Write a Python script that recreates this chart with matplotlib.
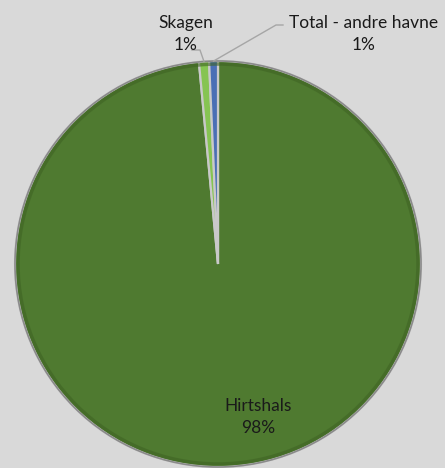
import numpy as np
import matplotlib
matplotlib.use('Agg')
import matplotlib.pyplot as plt

havne = ['Hirtshals', 'Skagen', 'Total - andre havne']
andel = [98.5, 0.8, 0.7]
etiketter = ['98%', '1%', '1%']
farver = ['#4f7a30', '#86c452', '#4a6fb5']

plt.rcParams['font.family'] = ['Lato', 'DejaVu Sans']

fig = plt.figure(figsize=(4.45, 4.68), dpi=100)
fig.patch.set_facecolor('#d9d9d9')
ax = fig.add_axes([0, 0, 1, 1])
ax.set_facecolor('#d9d9d9')

wedges, _ = ax.pie(andel, colors=farver, startangle=90, counterclock=False,
                   wedgeprops=dict(edgecolor='#c9c9c9', linewidth=1.6))
# rim
ax.add_patch(plt.Circle((0, 0), 1.0, fill=False, edgecolor='#8a8a8a', linewidth=1.2))
ax.add_patch(plt.Circle((0, 0), 0.985, fill=False, edgecolor='#3f6424', linewidth=2.5, alpha=0.6))

r = 203.0
ax.set_xlim(-218 / r, (445 - 218) / r)
ax.set_ylim(-(468 - 264) / r, 264 / r)
ax.axis('off')

def px(x, y):
    return ((x - 218) / r, (264 - y) / r)

fs = 12.5
ax.text(*px(258, 417), f'{havne[0]}\n{etiketter[0]}', ha='center', va='center',
        fontsize=fs, color='#1a1a1a', linespacing=1.5)
ax.text(*px(186, 34), f'{havne[1]}\n{etiketter[1]}', ha='center', va='center',
        fontsize=fs, color='#1a1a1a', linespacing=1.5)
ax.text(*px(364, 34), f'{havne[2]}\n{etiketter[2]}', ha='center', va='center',
        fontsize=fs, color='#1a1a1a', linespacing=1.5)

# leader lines from wedge tips
for w, pts in [(wedges[1], [(192, 50), (200, 50)]), (wedges[2], [(283, 25), (276, 25)])]:
    mid = np.deg2rad((w.theta1 + w.theta2) / 2)
    tip = (1.0 * np.cos(mid), 1.0 * np.sin(mid))
    xs = [px(*p)[0] for p in pts] + [tip[0]]
    ys = [px(*p)[1] for p in pts] + [tip[1]]
    ax.plot(xs, ys, color='#a6a6a6', linewidth=1)

fig.savefig('out.png', dpi=100, facecolor=fig.get_facecolor())
